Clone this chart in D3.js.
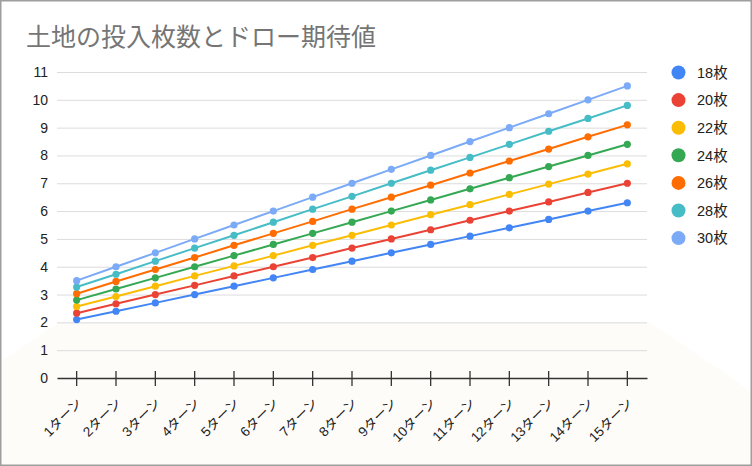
<!DOCTYPE html>
<html><head><meta charset="utf-8">
<script src="https://cdn.jsdelivr.net/npm/d3@7"></script>
<style>
html,body{margin:0;padding:0;background:#fff;}
svg{display:block;font-family:"Liberation Sans",Arial,"Noto Sans CJK JP",sans-serif;}
</style></head><body>
<svg id="c" width="752" height="466"></svg>
<script>
const title = "土地の投入枚数とドロー期待値";
const categories = ["1ターン","2ターン","3ターン","4ターン","5ターン","6ターン","7ターン","8ターン","9ターン","10ターン","11ターン","12ターン","13ターン","14ターン","15ターン"];
const seriesNames = ["18枚","20枚","22枚","24枚","26枚","28枚","30枚"];
const seriesColors = ["#4285F4","#EA4335","#FBBC04","#34A853","#FF6D01","#46BDC6","#7BAAF7"];
const s18 = [2.1,2.4,2.7,3.0,3.3,3.6,3.9,4.2,4.5,4.8,5.1,5.4,5.7,6.0,6.3];
const s20 = [2.33,2.67,3.0,3.33,3.67,4.0,4.33,4.67,5.0,5.33,5.67,6.0,6.33,6.67,7.0];
const s22 = [2.57,2.93,3.3,3.67,4.03,4.4,4.77,5.13,5.5,5.87,6.23,6.6,6.97,7.33,7.7];
const s24 = [2.8,3.2,3.6,4.0,4.4,4.8,5.2,5.6,6.0,6.4,6.8,7.2,7.6,8.0,8.4];
const s26 = [3.03,3.47,3.9,4.33,4.77,5.2,5.63,6.07,6.5,6.93,7.37,7.8,8.23,8.67,9.1];
const s28 = [3.27,3.73,4.2,4.67,5.13,5.6,6.07,6.53,7.0,7.47,7.93,8.4,8.87,9.33,9.8];
const s30 = [3.5,4.0,4.5,5.0,5.5,6.0,6.5,7.0,7.5,8.0,8.5,9.0,9.5,10.0,10.5];
const yTicks = [0,1,2,3,4,5,6,7,8,9,10,11];

const seriesValues = [s18,s20,s22,s24,s26,s28,s30];
const W = 752, H = 466;
const svg = d3.select("#c");

// faint background shape
svg.append("path")
  .attr("d","M0,362 L60,322 L650,322 L752,392 L752,466 L0,466 Z")
  .attr("fill","#fefcf9");

const x = d3.scaleBand().domain(categories).range([57,647]).padding(0);
const y = d3.scaleLinear().domain([0,11]).range([378,72]);

// title
svg.append("text").attr("x",26).attr("y",46).text(title)
  .attr("font-size",25).attr("fill","#757575")
  .attr("font-family","'Noto Sans CJK JP',sans-serif");

// gridlines + y labels
const yAxis = d3.axisLeft(y).tickValues(yTicks).tickSize(-(647-57)).tickFormat(d3.format("d"));
const gy = svg.append("g").attr("transform","translate(57,0)").call(yAxis);
gy.select(".domain").remove();
gy.selectAll(".tick line").attr("stroke","#dcdcdc").attr("stroke-width",1);
gy.selectAll(".tick text").attr("x",-9).attr("font-size",14).attr("fill","#222")
  .attr("font-family","'Liberation Sans',Arial,sans-serif");
gy.selectAll(".tick").filter(d=>d===0).select("line").remove();

// x axis
const xAxis = d3.axisBottom(x).tickSizeInner(0).tickSizeOuter(0);
const gx = svg.append("g").attr("transform",`translate(0,${y(0)})`).call(xAxis);
gx.select(".domain").attr("stroke","#333").attr("stroke-width",1.5);
gx.selectAll(".tick line").remove();
gx.selectAll(".tick").append("line").attr("y1",-7).attr("y2",8).attr("stroke","#333").attr("stroke-width",1.3);
gx.selectAll(".tick text")
  .attr("text-anchor","end").attr("font-size",13.5).attr("fill","#222")
  .attr("font-family","'Liberation Sans',Arial,'Noto Sans CJK JP',sans-serif")
  .attr("x",0).attr("y",0).attr("dy","0")
  .attr("transform","translate(6,26) rotate(-45)");

// lines
const line = d3.line().x((d,i)=>x(categories[i])+x.bandwidth()/2).y(d=>y(d));
seriesValues.forEach((vals,si)=>{
  const g = svg.append("g");
  g.append("path").attr("d",line(vals)).attr("fill","none")
    .attr("stroke",seriesColors[si]).attr("stroke-width",2);
  g.selectAll("circle").data(vals).join("circle")
    .attr("cx",(d,i)=>x(categories[i])+x.bandwidth()/2)
    .attr("cy",d=>y(d)).attr("r",3.6).attr("fill",seriesColors[si]);
});

// legend
const lg = svg.append("g");
seriesNames.forEach((n,i)=>{
  const cy = 72.5 + i*27.6;
  lg.append("circle").attr("cx",678.5).attr("cy",cy).attr("r",7).attr("fill",seriesColors[i]);
  lg.append("text").attr("x",697).attr("y",cy).attr("dy","0.36em").text(n)
    .attr("font-size",14.5).attr("fill","#222")
    .attr("font-family","'Liberation Sans',Arial,'Noto Sans CJK JP',sans-serif");
});

// border
svg.append("rect").attr("x",0.75).attr("y",0.75).attr("width",W-1.5).attr("height",H-1.5)
  .attr("fill","none").attr("stroke","#9e9e9e").attr("stroke-width",1.5);
</script>
</body></html>
